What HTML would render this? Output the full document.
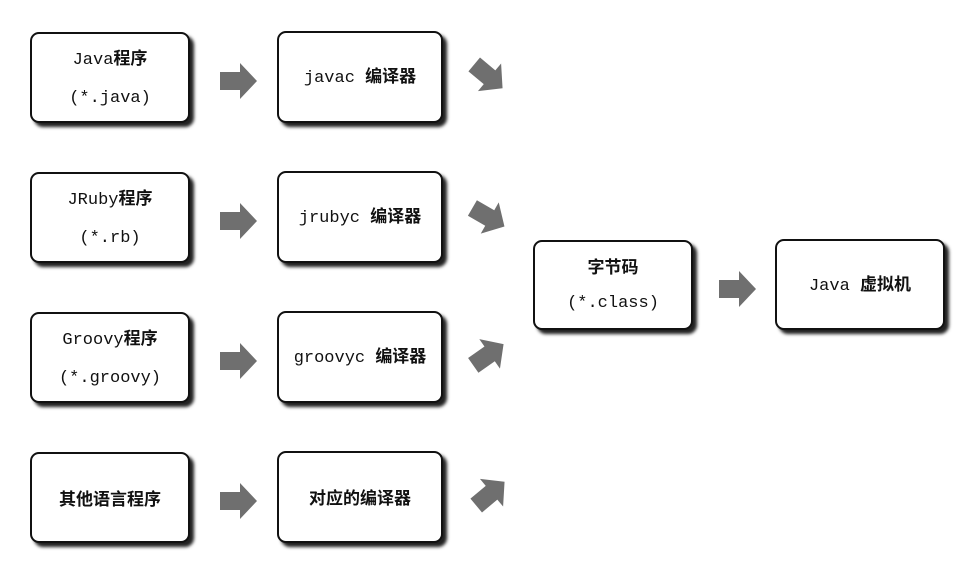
<!DOCTYPE html>
<html><head><meta charset="utf-8"><style>
body{margin:0;width:969px;height:567px;background:#fff;position:relative;overflow:hidden;font-family:"Liberation Mono","Noto Sans CJK SC",monospace;color:#111}
.b{position:absolute;border:2px solid #111;border-radius:9px;background:#fff;box-shadow:4px 4px 3px #222;display:flex;flex-direction:column;align-items:center;justify-content:center;font-size:17px;line-height:38px;box-sizing:border-box}
.c{font-family:"Noto Sans CJK SC",sans-serif;font-weight:bold}
svg{position:absolute;left:0;top:0}
</style></head><body>
<div class="b" style="left:30px;top:32px;width:160px;height:91px"><div>Java<span class="c">程序</span></div><div>(*.java)</div></div>
<div class="b" style="left:30px;top:172px;width:160px;height:91px"><div>JRuby<span class="c">程序</span></div><div>(*.rb)</div></div>
<div class="b" style="left:30px;top:312px;width:160px;height:91px"><div>Groovy<span class="c">程序</span></div><div>(*.groovy)</div></div>
<div class="b" style="left:30px;top:452px;width:160px;height:91px"><div class="c">其他语言程序</div></div>
<div class="b" style="left:277px;top:31px;width:166px;height:92px"><div>javac <span class="c">编译器</span></div></div>
<div class="b" style="left:277px;top:171px;width:166px;height:92px"><div>jrubyc <span class="c">编译器</span></div></div>
<div class="b" style="left:277px;top:311px;width:166px;height:92px"><div>groovyc <span class="c">编译器</span></div></div>
<div class="b" style="left:277px;top:451px;width:166px;height:92px"><div class="c">对应的编译器</div></div>
<div class="b" style="left:533px;top:240px;width:160px;height:90px"><div class="c">字节码</div><div>(*.class)</div></div>
<div class="b" style="left:775px;top:239px;width:170px;height:91px"><div>Java <span class="c">虚拟机</span></div></div>
<svg width="969" height="567">
<defs><path id="a" d="M-18,-9 L2,-9 L2,-18 L19,0 L2,18 L2,9 L-18,9 Z" fill="#6f6f6f"/></defs>
<use href="#a" transform="translate(238,81)"/>
<use href="#a" transform="translate(238,221)"/>
<use href="#a" transform="translate(238,361)"/>
<use href="#a" transform="translate(238,501)"/>
<use href="#a" transform="translate(737,289)"/>
<use href="#a" transform="translate(488,76) rotate(40)"/>
<use href="#a" transform="translate(488,217) rotate(30)"/>
<use href="#a" transform="translate(488,355) rotate(-35)"/>
<use href="#a" transform="translate(490,494) rotate(-40)"/>
</svg>
</body></html>
